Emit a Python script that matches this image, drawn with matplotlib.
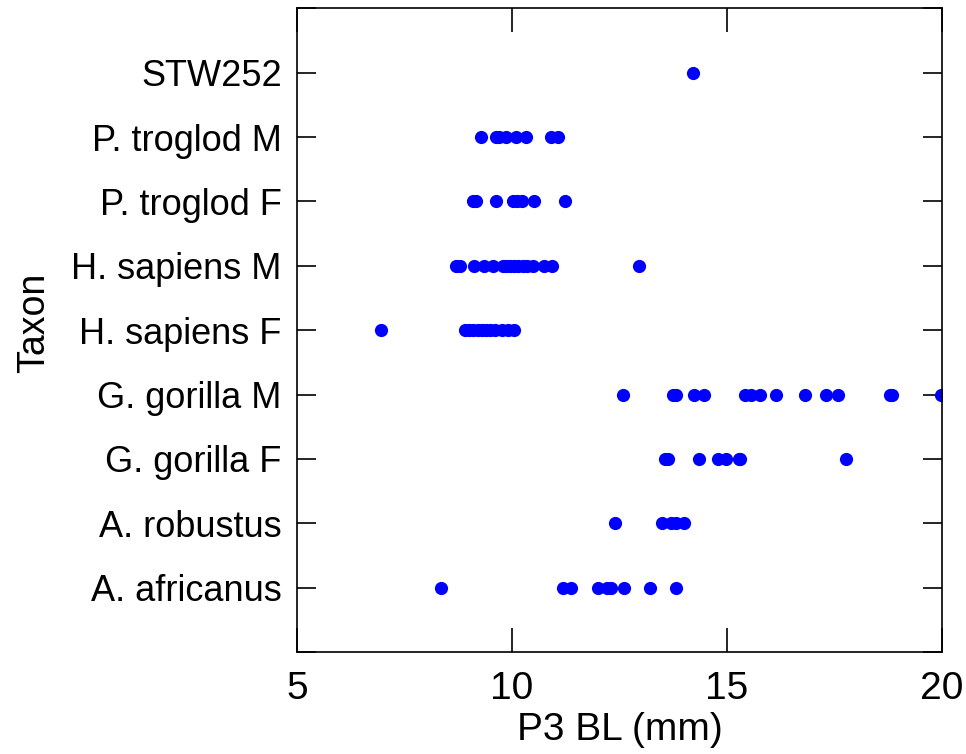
import matplotlib.pyplot as plt
import numpy as np

plt.rcParams['font.family'] = ['Liberation Sans', 'DejaVu Sans']

# taxa, bottom to top
taxa = ['A. africanus', 'A. robustus', 'G. gorilla F', 'G. gorilla M',
        'H. sapiens F', 'H. sapiens M', 'P. troglod F', 'P. troglod M', 'STW252']

# P3 BL values (mm) per taxon
a_africanus = [8.36, 11.18, 11.38, 12.0, 12.22, 12.31, 12.61, 13.2, 13.81]
a_robustus = [12.39, 13.5, 13.69, 13.81, 14.01]
g_gorilla_f = [13.55, 13.62, 14.36, 14.8, 14.97, 15.27, 15.31, 17.78]
g_gorilla_m = [12.59, 13.74, 13.81, 14.23, 14.46, 15.41, 15.56, 15.78, 16.15,
               16.82, 17.31, 17.58, 18.8, 18.85, 19.99]
h_sapiens_f = [6.95, 8.9, 9.0, 9.1, 9.2, 9.3, 9.4, 9.5, 9.6, 9.76, 9.9, 10.05]
h_sapiens_m = [8.7, 8.8, 9.12, 9.36, 9.56, 9.78, 9.85, 9.95, 10.05, 10.15,
               10.25, 10.35, 10.5, 10.74, 10.94, 12.95]
p_troglod_f = [9.1, 9.16, 9.63, 10.02, 10.12, 10.23, 10.51, 11.24]
p_troglod_m = [9.29, 9.62, 9.7, 9.85, 10.1, 10.32, 10.91, 11.06]
stw252 = [14.2]

groups = [a_africanus, a_robustus, g_gorilla_f, g_gorilla_m, h_sapiens_f,
          h_sapiens_m, p_troglod_f, p_troglod_m, stw252]

fig = plt.figure(figsize=(9.66, 7.54), dpi=100)
ax = fig.add_axes([0.3075, 0.1353, 0.6675, 0.8537])

for i, vals in enumerate(groups):
    ax.plot(vals, np.full(len(vals), i + 1), 'o', color='#0000ff',
            markersize=9.5, markeredgewidth=0)

ax.set_xlim(5, 20)
ax.set_ylim(0, 10)
ax.set_xticks([5, 10, 15, 20])
ax.set_yticks(range(0, 11))
ax.set_yticklabels([''] + taxa + [''])

for s in ax.spines.values():
    s.set_linewidth(1.2)

ax.tick_params(axis='x', direction='in', length=17, width=1.2, top=True,
               labelsize=28, pad=14)
ax.tick_params(axis='y', direction='in', length=14, width=1.2, right=True,
               labelsize=26, pad=11)

ax.set_xlabel('P3 BL (mm)', fontsize=28)
ax.xaxis.set_label_coords(0.5, -0.093)
ax.set_ylabel('Taxon', fontsize=27)
ax.yaxis.set_label_coords(-0.38, 0.512)

plt.savefig('out.png', dpi=100)
